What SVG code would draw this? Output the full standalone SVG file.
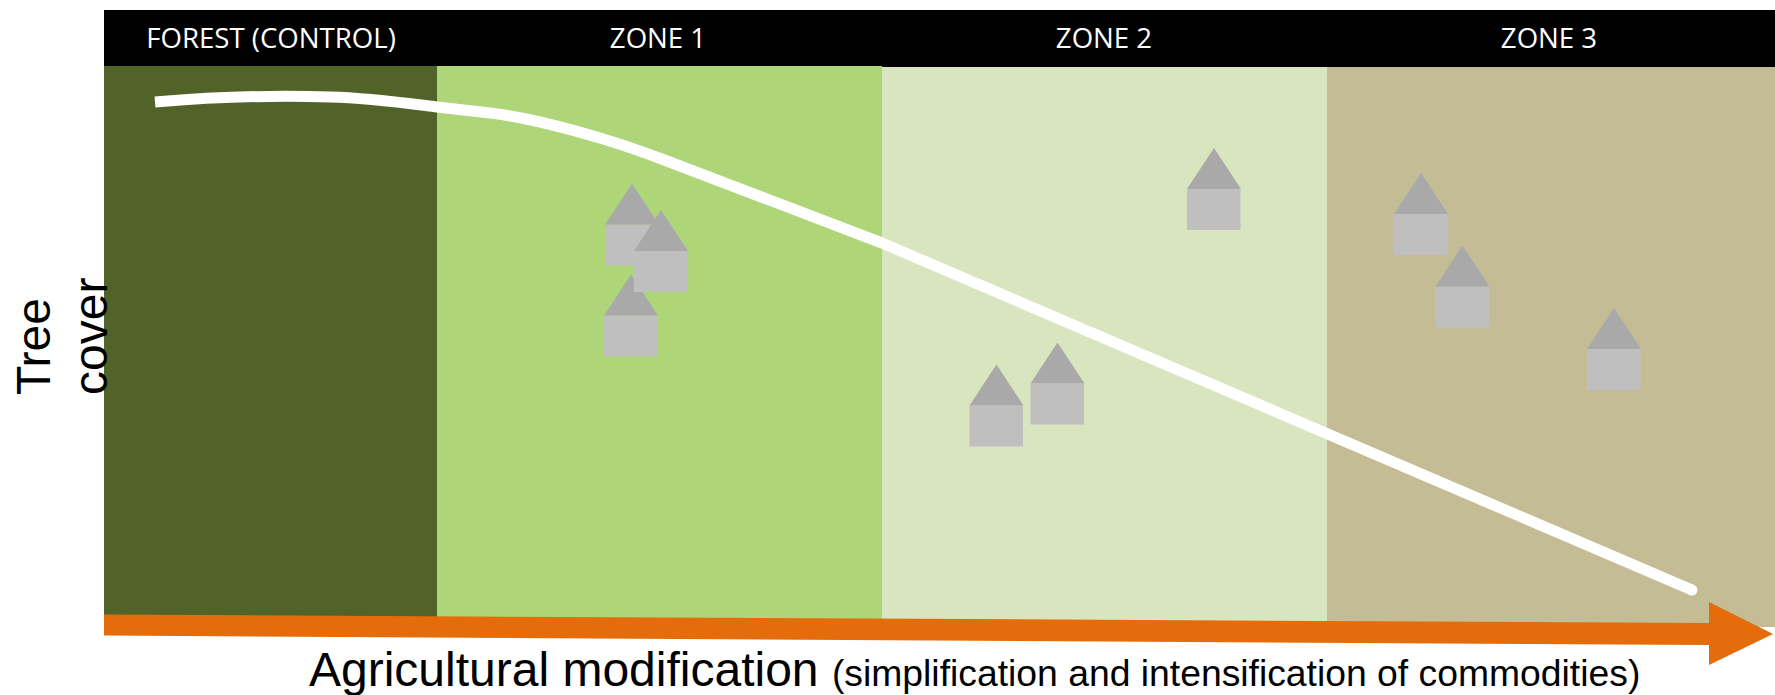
<svg xmlns="http://www.w3.org/2000/svg" width="1775" height="695" viewBox="0 0 1775 695">
<style>
.hdr{font-family:"Open Sans","Noto Sans",sans-serif;font-size:27.6px;fill:#fff;text-anchor:middle}
.ax{font-family:"Liberation Sans",Arial,sans-serif;fill:#000}
.roof{fill:#A9A9A9}
.body{fill:#BFBFBF}
</style>
<defs>
<g id="house"><rect class="body" x="0" y="41" width="53.5" height="41"/><polygon class="roof" points="27,0 54,41 0,41"/></g>
</defs>
<rect x="104" y="10" width="1671" height="58" fill="#000"/>
<rect x="104" y="66" width="333" height="552" fill="#526329"/>
<rect x="437" y="66" width="445" height="555" fill="#AED678"/>
<rect x="882" y="67" width="445" height="556" fill="#D9E5BF"/>
<rect x="1327" y="67" width="448" height="560" fill="#C4BC95"/>
<g id="label-forest"><text class="hdr" x="271" y="48">FOREST (CONTROL)</text></g>
<g id="label-zone1"><text class="hdr" x="658" y="48">ZONE 1</text></g>
<g id="label-zone2"><text class="hdr" x="1104" y="48">ZONE 2</text></g>
<g id="label-zone3"><text class="hdr" x="1549" y="48">ZONE 3</text></g>
<g id="house-1"><use href="#house" transform="translate(605,183.5)"/></g>
<g id="house-3"><use href="#house" transform="translate(604,274.5)"/></g>
<g id="house-2"><use href="#house" transform="translate(634,210)"/></g>
<g id="house-4"><use href="#house" transform="translate(1187,148)"/></g>
<g id="house-5"><use href="#house" transform="translate(969.5,364.5)"/></g>
<g id="house-6"><use href="#house" transform="translate(1030.5,342.5)"/></g>
<g id="house-7"><use href="#house" transform="translate(1394,173)"/></g>
<g id="house-8"><use href="#house" transform="translate(1435.5,245.5)"/></g>
<g id="house-9"><use href="#house" transform="translate(1587,308)"/></g>
<g id="connectors">
<polygon id="axis-arrow" points="104,614.5 1709,623 1709,602 1773,634 1709,665 1709,645 104,635.5" fill="#E46C0A"/>
<path id="tree-cover-line" d="M155,102 C215,97 270,95 330,97 C370,98 405,103 437,107 L490,113 C530,117.6 570,129 600,138 C622,144.6 645,152.6 667,161 L882,243 L1692,590" fill="none" stroke="#fff" stroke-width="11" stroke-linejoin="round"/>
<circle cx="1692" cy="590" r="5.5" fill="#fff"/>
</g>
<g id="label-tree-cover">
<text class="ax" font-size="48" transform="translate(50,395) rotate(-90)">Tree</text>
<text class="ax" font-size="48" transform="translate(107,395) rotate(-90)">cover</text>
</g>
<g id="label-axis"><text class="ax" x="309" y="686" font-size="48">Agricultural modification <tspan font-size="37.3">(simplification and intensification of commodities)</tspan></text></g>
</svg>
